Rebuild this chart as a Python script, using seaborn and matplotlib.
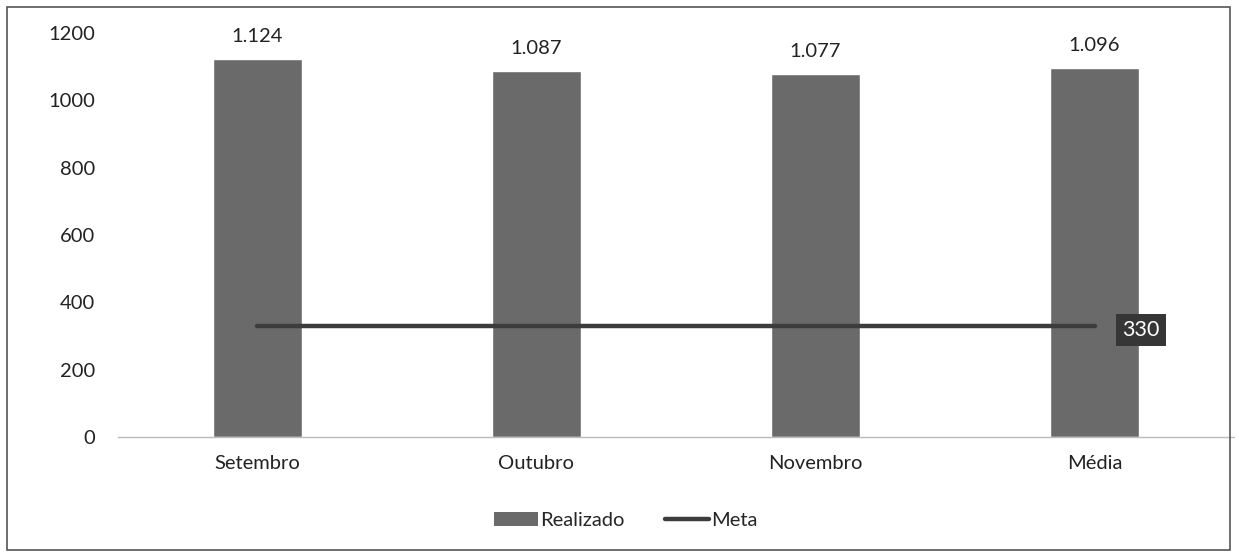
import numpy as np
import pandas as pd
import matplotlib
matplotlib.use("Agg")
import matplotlib.pyplot as plt
import seaborn as sns
from matplotlib.patches import Patch, Rectangle
from matplotlib.lines import Line2D

meses = ["Setembro", "Outubro", "Novembro", "Média"]
realizado = [1124, 1087, 1077, 1096]
meta = [330, 330, 330, 330]
rotulos = ["1.124", "1.087", "1.077", "1.096"]

sns.set_style("white")
plt.rcParams["font.family"] = ["Lato", "DejaVu Sans"]

cor_barra = "#6a6a6a"
cor_linha = "#3c3c3c"
fs = 14.5

fig = plt.figure(figsize=(12.39, 5.57), dpi=100)
ax = fig.add_axes([0.095, 0.2155, 0.901, 0.7253])

df = pd.DataFrame({"Mes": meses, "Realizado": realizado})
sns.barplot(data=df, x="Mes", y="Realizado", color=cor_barra, width=0.32,
            saturation=1, ax=ax)
sns.lineplot(x=np.arange(len(meses)), y=meta, color=cor_linha, linewidth=3.2,
             ax=ax, legend=False)

for i, (v, r) in enumerate(zip(realizado, rotulos)):
    ax.annotate(r, (i, v), xytext=(0, 10), textcoords="offset points",
                ha="center", va="bottom", fontsize=fs, color="#222222")

ax.annotate(str(meta[-1]), (len(meses) - 1, meta[-1]), xytext=(20, -3),
            textcoords="offset points", ha="left", va="center", fontsize=fs + 1,
            color="white",
            bbox=dict(boxstyle="square,pad=0.3", fc="#363636", ec="none"))

ax.set_xlim(-0.5, 3.5)
ax.set_ylim(0, 1200)
ax.set_yticks(range(0, 1201, 200))
ax.set_xlabel("")
ax.set_ylabel("")
ax.tick_params(axis="y", length=0, pad=16, labelsize=fs, labelcolor="#222222")
ax.tick_params(axis="x", length=0, pad=13, labelsize=fs, labelcolor="#222222")
for s in ["top", "right", "left"]:
    ax.spines[s].set_visible(False)
ax.spines["bottom"].set_color("#bbbbbb")
ax.spines["bottom"].set_linewidth(1)

handles = [Patch(facecolor=cor_barra, edgecolor="none", label="Realizado"),
           Line2D([0], [0], color=cor_linha, linewidth=3.2,
                  solid_capstyle="round", label="Meta")]
fig.legend(handles=handles, loc="center", bbox_to_anchor=(0.505, 0.066),
           ncol=2, frameon=False, fontsize=fs, handlelength=2.2,
           handletextpad=0.1, columnspacing=2.0)

fig.patches.append(Rectangle((0.006, 0.012), 0.987, 0.975, transform=fig.transFigure,
                             fill=False, edgecolor="#555555", linewidth=1.2))

fig.savefig("out.png", dpi=100)
